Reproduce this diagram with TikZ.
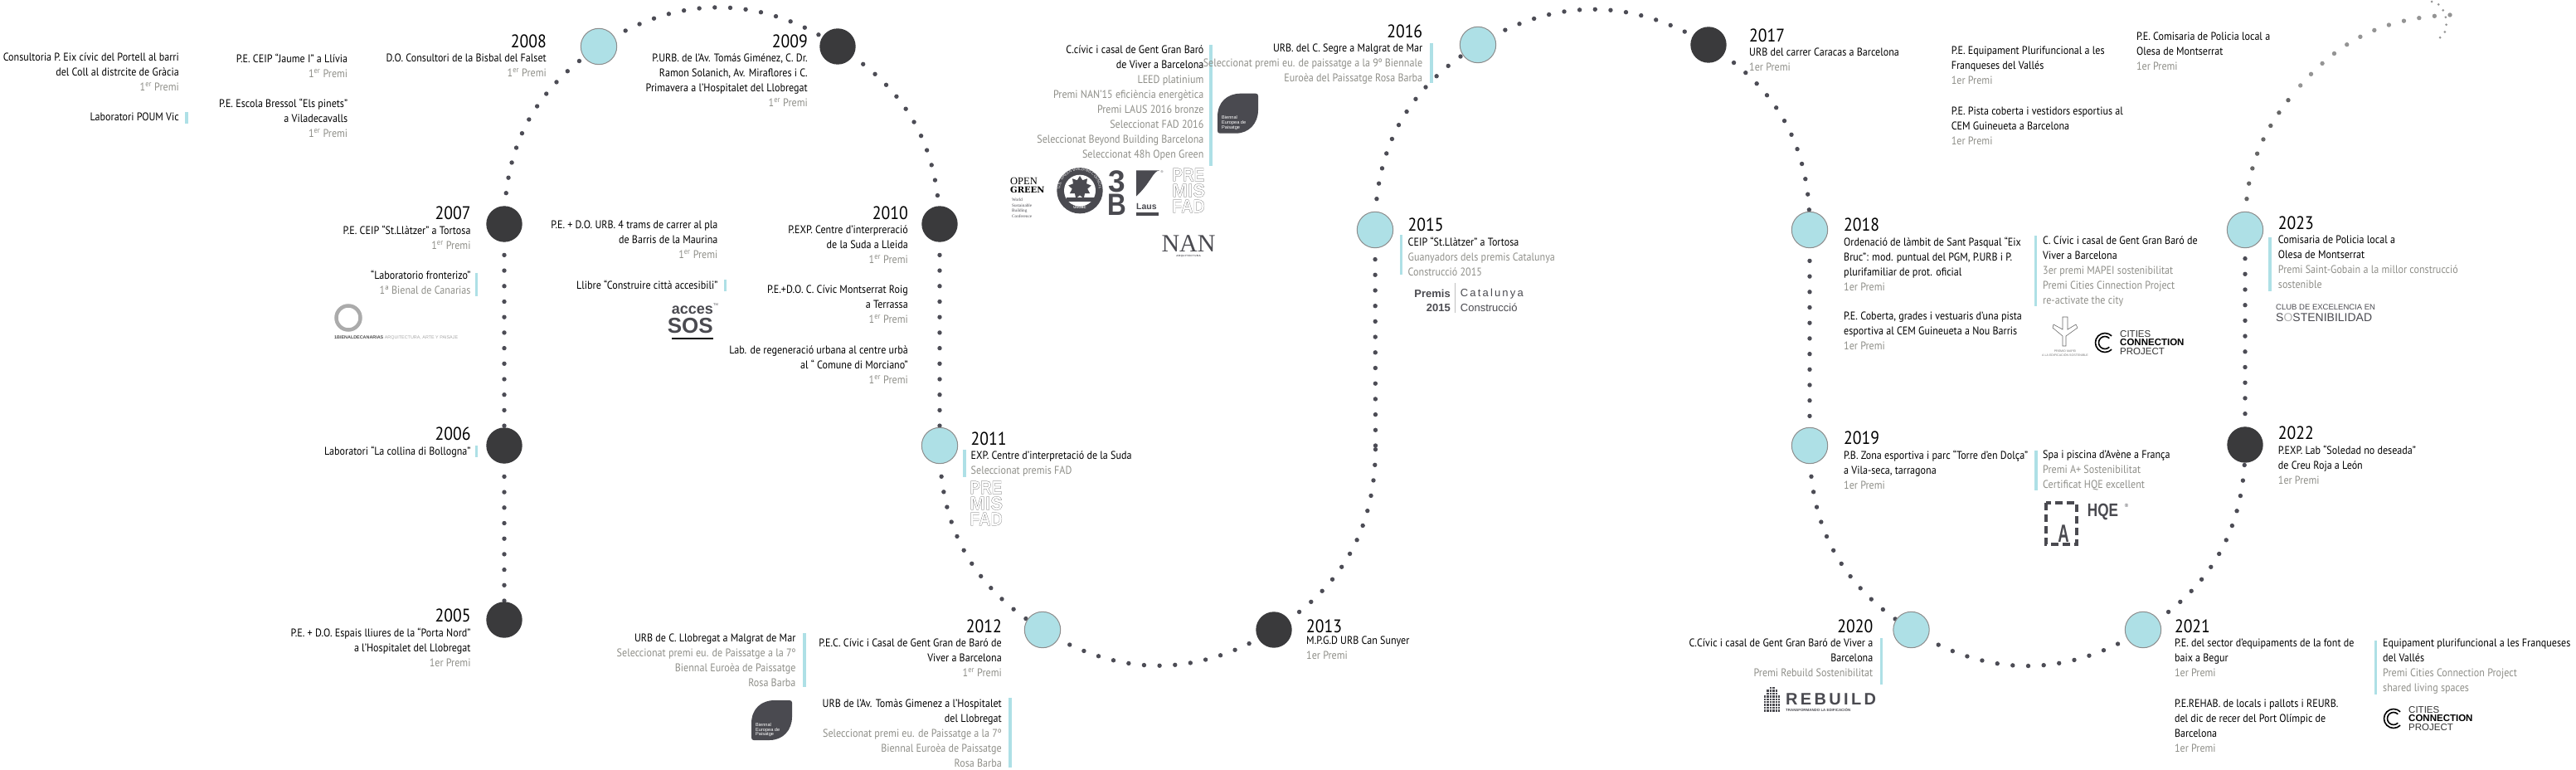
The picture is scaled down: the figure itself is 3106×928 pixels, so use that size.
\documentclass[tikz,border=0pt]{standalone}
\usepackage{fontspec}
\setmainfont[FakeStretch=0.895]{PT Sans}
\newfontfamily\logofont{Liberation Sans}
\newfontfamily\logoserif{Liberation Serif}
\newfontfamily\slabfont{DejaVu Serif}
\usetikzlibrary{backgrounds,shapes.geometric,decorations.text}
\definecolor{accent}{HTML}{AEE0E6}
\definecolor{nodedark}{HTML}{3A3A3C}
\definecolor{dotdark}{HTML}{4C4C55}
\definecolor{prizegray}{HTML}{8E8E88}
\definecolor{logodark}{HTML}{4A4A50}
\newcommand{\gr}[1]{\textcolor{prizegray}{#1}}
\newcommand{\premisup}{\gr{1\textsuperscript{er} Premi}}
\newcommand{\premi}{\gr{1er Premi}}
\tikzset{
  yeardark/.style={circle,minimum size=43.4pt,inner sep=0pt,fill=nodedark},
  yearlight/.style={circle,minimum size=43.4pt,inner sep=0pt,fill=accent,draw=black!45,line width=1pt},
  dotline/.style={dotdark,line width=5.4pt,line cap=round,dash pattern=on 0pt off 18.7pt},
  yeartag/.style={inner sep=0pt,font=\fontsize{22}{24}\selectfont},
  rtext/.style={anchor=north east,align=right,inner sep=0pt,font=\fontsize{13.5}{18}\selectfont},
  ltext/.style={anchor=north west,align=left,inner sep=0pt,font=\fontsize{13.5}{18}\selectfont},
  markbar/.style={rectangle,fill=accent,inner sep=0pt,minimum width=3.4pt},
  logotext/.style={inner sep=0pt,logodark},
  leaflogo/.pic={
    \fill[logodark] (0,45) -- (0,28) .. controls (0,10) and (12,0) .. (28,0) -- (46,0)
      .. controls (48,0) and (49,1) .. (49,3) -- (49,20) .. controls (49,36) and (38,48) .. (22,48)
      -- (3,48) .. controls (1,48) and (0,47) .. (0,45) -- cycle;
    \node[anchor=north west,align=left,inner sep=0pt,white,font=\logofont\fontsize{5.6}{5.8}\selectfont] (txt) at (5,27) {Biennal\\Europea de\\Paisatge};
  },
  fadlogo/.pic={
    \node[anchor=north west,align=left,inner sep=0pt,black!65,font=\logofont\bfseries\fontsize{22.5}{19}\selectfont] (txt) at (-1,-1.5) {\special{pdf:code 1 Tr 0.2 w}\scalebox{.85}[1]{PRE}\\\scalebox{1}[1]{MIS}\\\scalebox{.88}[1]{FAD}};
  },
  citieslogo/.pic={
    \draw[black,line width=1.6pt] (8.13pt,8.13pt) arc[start angle=45,end angle=315,radius=11.5pt];
    \draw[black,line width=1.6pt] (5.3pt,5.3pt) arc[start angle=45,end angle=315,radius=7.5pt];
    \node[anchor=west,inner sep=0pt,black!80,font=\logofont\fontsize{11.5}{12}\selectfont] (a) at (18,-10.5) {CITIES};
    \node[anchor=west,inner sep=0pt,black,font=\logofont\bfseries\fontsize{11.5}{12}\selectfont] (b) at (18,0) {CONNECTION};
    \node[anchor=west,inner sep=0pt,black!80,font=\logofont\fontsize{11.5}{12}\selectfont] (c) at (18,10.5) {PROJECT};
  },
}
\begin{document}
\begin{tikzpicture}[x=1pt,y=-1pt]
\useasboundingbox (0,0) rectangle (3106,928);
\node[yeardark] (n2005) at (608,747) {};
\node[yeardark] (n2006) at (608,537) {};
\node[yeardark] (n2007) at (608,270) {};
\node[yearlight] (n2008) at (722,56) {};
\node[yeardark] (n2009) at (1010,56) {};
\node[yeardark] (n2010) at (1133,270) {};
\node[yearlight] (n2011) at (1133,537) {};
\node[yearlight] (n2012) at (1257,759) {};
\node[yeardark] (n2013) at (1536,759) {};
\coordinate (c2014) at (1658.5,537);
\node[yearlight] (n2015) at (1658,277) {};
\node[yearlight] (n2016) at (1782,54) {};
\node[yeardark] (n2017) at (2060,54) {};
\node[yearlight] (n2018) at (2182,277) {};
\node[yearlight] (n2019) at (2182,537) {};
\node[yearlight] (n2020) at (2304.5,759) {};
\node[yearlight] (n2021) at (2584,759) {};
\node[yeardark] (n2022) at (2707,536) {};
\node[yearlight] (n2023) at (2707,277) {};
\coordinate (tailmid) at (2768.8,108.6);
\coordinate (tail) at (2954,18);
\coordinate (curlstart) at (2932,2);
\coordinate (curlend) at (2941,46);

\begin{scope}[on background layer]
  \draw[dotline] (n2006.center) -- (n2005.center);
  \draw[dotline] (n2007.center) -- (n2006.center);
  \draw[dotline] (n2007.center) to[bend left=27.6] (n2008.center);
  \draw[dotline] (n2008.center) to[bend left=34] (n2009.center);
  \draw[dotline] (n2009.center) to[bend left=28.4] (n2010.center);
  \draw[dotline] (n2010.center) -- (n2011.center);
  \draw[dotline] (n2011.center) to[bend right=29] (n2012.center);
  \draw[dotline] (n2012.center) to[bend right=32] (n2013.center);
  \draw[dotline] (n2013.center) to[bend right=29] (c2014);
  \draw[dotline] (c2014) -- (n2015.center);
  \draw[dotline] (n2015.center) to[bend left=29.2] (n2016.center);
  \draw[dotline] (n2016.center) to[bend left=31.7] (n2017.center);
  \draw[dotline] (n2017.center) to[bend left=29.2] (n2018.center);
  \draw[dotline] (n2018.center) -- (n2019.center);
  \draw[dotline] (n2019.center) to[bend right=29] (n2020.center);
  \draw[dotline] (n2020.center) to[bend right=32.2] (n2021.center);
  \draw[dotline] (n2021.center) to[bend right=29] (n2022.center);
  \draw[dotline] (n2022.center) -- (n2023.center);
  \draw[dotline,black!60] (n2023.center) to[bend left=20] (tailmid);
  \draw[dotline,black!42] (tail) to[bend right=23.3] (tailmid);
  \draw[dotline,black!42,line width=3pt,dash pattern=on 0pt off 9pt] (curlstart) to[bend left=75] (curlend);
\end{scope}

\node[yeartag,anchor=east] (y2005) at (567.7,742) {2005};
\node[rtext] (t2005) at (567.7,757) {P.E. + D.O. Espais lliures de la “Porta Nord”\\a l’Hospitalet del Llobregat\\\premi};
\node[yeartag,anchor=east] (y2006) at (567.7,523) {2006};
\node[rtext] (t2006) at (567.7,538) {Laboratori “La collina di Bollogna”};
\node[markbar,minimum height=14pt] (b2006) at (574.6,544) {};
\node[yeartag,anchor=east] (y2007) at (567.7,257) {2007};
\node[rtext] (t2007) at (567.7,272) {P.E. CEIP “St.Llàtzer” a Tortosa\\\premisup};
\node[rtext] (t2007b) at (567.7,326) {“Laboratorio fronterizo”\\\gr{1ª Bienal de Canarias}};
\node[markbar,minimum height=28pt] (b2007) at (574.6,343) {};
\draw[black!33,line width=4.5pt] (420,383) circle[radius=14.5pt];
\node[inner sep=0pt,anchor=west,font=\logofont\fontsize{5.4}{6}\selectfont] (canarias) at (403,407) {\textcolor{black!70}{\textbf{1BIENALDECANARIAS}} \textcolor{black!35}{ARQUITECTURA, ARTE Y PAISAJE}};
\node[yeartag,anchor=east] (y2008) at (659,50) {2008};
\node[rtext] (t2008) at (659,65) {D.O. Consultori de la Bisbal del Falset\\\premisup};
\node[rtext] (t2008b) at (419.4,65) {P.E. CEIP “Jaume I” a Llívia\\\premisup};
\node[rtext] (t2008c) at (419.4,119) {P.E. Escola Bressol “Els pinets”\\a Viladecavalls\\\premisup};
\node[rtext] (t2008d) at (216,64) {Consultoria P. Eix cívic del Portell al barri\\del Coll al distrcite de Gràcia\\\premisup};
\node[rtext] (t2008e) at (216,136) {Laboratori POUM Vic};
\node[markbar,minimum height=14pt] (b2008) at (225,142) {};
\node[yeartag,anchor=east] (y2009) at (974,50) {2009};
\node[rtext] (t2009) at (974,65) {P.URB. de l’Av. Tomás Giménez, C. Dr.\\Ramon Solanich, Av. Miraflores i C.\\Primavera a l’Hospitalet del Llobregat\\\premisup};
\node[yeartag,anchor=east] (y2010) at (1095,257) {2010};
\node[rtext] (t2010) at (1095,272) {P.EXP. Centre d’interpreració\\de la Suda a Lleida\\\premisup};
\node[rtext] (t2010b) at (1095,344) {P.E.+D.O. C. Cívic Montserrat Roig\\a Terrassa\\\premisup};
\node[rtext] (t2010c) at (1095,417) {Lab. de regeneració urbana al centre urbà\\al “ Comune di Morciano”\\\premisup};
\node[rtext] (t2010d) at (865.6,266) {P.E. + D.O. URB. 4 trams de carrer al pla\\de Barris de la Maurina\\\premisup};
\node[rtext] (t2010e) at (865.6,338) {Llibre “Construire città accesibili”};
\node[markbar,minimum height=14pt] (b2010) at (874.5,344) {};
\node[logotext,anchor=east,font=\logofont\bfseries\fontsize{18}{20}\selectfont] (acces) at (860,374) {acces};
\node[logotext,anchor=east,font=\logofont\bfseries\fontsize{26}{28}\selectfont] (sos) at (860,393) {SOS};
\node[logotext,anchor=west,font=\logofont\fontsize{4}{5}\selectfont] (accestm) at (860,367) {TM};
\node[logotext,fill=black,minimum width=50pt,minimum height=2pt] (sosline) at (835,408) {};
\node[yeartag,anchor=west] (y2011) at (1170.5,529) {2011};
\node[ltext] (t2011) at (1170.5,544) {EXP. Centre d’interpretació de la Suda\\\gr{Seleccionat premis FAD}};
\node[markbar,minimum height=33pt] (b2011) at (1163,558.5) {};
\pic (fad2011) at (1170,581) {fadlogo};
\node[yeartag,anchor=east] (y2012) at (1208,755) {2012};
\node[rtext] (t2012) at (1208,770) {P.E.C. Cívic i Casal de Gent Gran de Baró de\\Viver a Barcelona\\\premisup};
\node[rtext] (t2012b) at (959.6,764) {URB de  C. Llobregat a Malgrat de Mar\\\gr{Seleccionat premi eu. de Paissatge a la 7º}\\\gr{Biennal Euroèa de Paissatge}\\\gr{Rosa Barba}};
\node[markbar,minimum height=65pt] (b2012b) at (970,795) {};
\pic (leaf2012) at (906,844) {leaflogo};
\node[rtext] (t2012c) at (1208,843) {URB de l’Av. Tomàs Gimenez a l’Hospitalet\\del Llobregat\\\gr{Seleccionat premi eu. de Paissatge a la 7º}\\\gr{Biennal Euroèa de Paissatge}\\\gr{Rosa Barba}};
\node[markbar,minimum height=84pt] (b2012c) at (1218,883) {};
\node[yeartag,anchor=west] (y2013) at (1575,755) {2013};
\node[ltext] (t2013) at (1575,767) {M.P.G.D URB Can Sunyer\\\premi};
\node[rtext] (t2016b) at (1451.6,55) {C.cívic i casal de Gent Gran Baró\\de Viver a Barcelona\\\gr{LEED platinium}\\\gr{Premi NAN’15 eficiència energètica}\\\gr{Premi LAUS 2016 bronze}\\\gr{Seleccionat FAD 2016}\\\gr{Seleccionat Beyond Building Barcelona}\\\gr{Seleccionat 48h Open Green}};
\node[markbar,minimum height=146pt] (b2016b) at (1460,127) {};
\pic (leaf2016) at (1468,112.7) {leaflogo};
\node[anchor=west,inner sep=0pt,font=\logoserif\fontsize{12.5}{13}\selectfont] (openw) at (1218,218) {OPEN};
\node[anchor=west,inner sep=0pt,font=\slabfont\bfseries\fontsize{10}{11}\selectfont] (greenw) at (1218,229) {GREEN};
\node[anchor=north west,align=left,inner sep=0pt,logodark,font=\logoserif\fontsize{5.2}{6.4}\selectfont] (worldw) at (1220,239) {World\\Sustainable\\Building\\Conference};
\fill[logodark] (1302,229.7) circle[radius=27.7pt];
\fill[white] (1302,229.7) circle[radius=19pt];
\node[star,star points=9,star point ratio=1.5,fill=logodark,inner sep=0pt,minimum size=28pt] (sealleaf) at (1302,226) {};
\path[decorate,decoration={text along path,text align=center,text color=white,text={|\logofont\fontsize{4.6}{5}\selectfont|U.S. GREEN BUILDING COUNCIL}}] (1280,238) arc[start angle=203,end angle=-23,radius=23.5pt];
\node[rectangle,fill=white,draw=logodark,line width=.6pt,inner sep=.8pt,font=\logofont\bfseries\fontsize{3.8}{4}\selectfont,logodark] (sealband) at (1302,240) {LEED PLATINUM};
\node[inner sep=0pt,white,font=\logofont\bfseries\fontsize{4.2}{5}\selectfont] (sealname) at (1302,250) {USGBC};
\node[logotext,font=\logofont\bfseries\fontsize{37}{37}\selectfont] (bb3) at (1346.5,218.5) {3};
\node[logotext,font=\logofont\bfseries\fontsize{37}{37}\selectfont] (bbb) at (1346.5,246.5) {\scalebox{.85}[1]{B}};
\fill[logodark] (1370,205.5) -- (1398,205.5) .. controls (1390,206) and (1388,220) .. (1370,236.5) -- cycle;
\node[logotext,font=\logofont\fontsize{4}{5}\selectfont] (lausr) at (1401,207) {®};
\node[logotext,anchor=west,font=\logofont\bfseries\fontsize{10.5}{11}\selectfont] (lausw) at (1370,249) {Laus};
\node[logotext,fill=logodark,minimum width=27pt,minimum height=3.4pt] (lausbar) at (1383.5,258) {};
\pic (fad2016) at (1414,204) {fadlogo};
\node[inner sep=0pt,font=\logoserif\fontsize{30}{30}\selectfont,logodark] (nanw) at (1433,294) {NAN};
\node[inner sep=0pt,font=\logofont\bfseries\fontsize{3}{4}\selectfont,logodark] (nansub) at (1433,309) {A\,R\,Q\,U\,I\,T\,E\,C\,T\,U\,R\,A};
\node[yeartag,anchor=west] (y2015) at (1697.5,271) {2015};
\node[ltext] (t2015) at (1697.5,286) {CEIP “St.Llàtzer” a Tortosa\\\gr{Guanyadors dels premis Catalunya}\\\gr{Construcció 2015}};
\node[markbar,minimum height=48pt] (b2015) at (1689.5,307) {};
\node[logotext,anchor=east,font=\logofont\bfseries\fontsize{13}{15}\selectfont] (prm) at (1749,354) {Premis};
\node[logotext,anchor=east,font=\logofont\bfseries\fontsize{13}{15}\selectfont] (prmy) at (1749,371) {2015};
\node[rectangle,fill=black!25,inner sep=0pt,minimum width=1pt,minimum height=36pt] (prmbar) at (1754.7,359) {};
\node[logotext,anchor=west,font=\logofont\fontsize{13}{15}\selectfont] (prmc) at (1760.7,354) {C\,a\,t\,a\,l\,u\,n\,y\,a};
\node[logotext,anchor=west,font=\logofont\fontsize{13}{15}\selectfont] (prmd) at (1760.7,371) {Construcció};
\node[yeartag,anchor=east] (y2016) at (1715.4,38) {2016};
\node[rtext] (t2016) at (1715.4,53) {URB. del C. Segre a Malgrat de Mar\\\gr{Seleccionat premi eu. de paissatge a la 9º Biennale}\\\gr{Euroèa del Paissatge Rosa Barba}};
\node[markbar,minimum height=48pt] (b2016) at (1726,76) {};
\node[yeartag,anchor=west] (y2017) at (2109,43) {2017};
\node[ltext] (t2017) at (2109,58) {URB del carrer Caracas a Barcelona\\\premi};
\node[ltext] (t2017b) at (2352.6,56) {P.E. Equipament Plurifuncional a les\\Franqueses del Vallés\\\premi};
\node[ltext] (t2017c) at (2352.6,129) {P.E. Pista coberta i vestidors esportius al\\CEM Guineueta a Barcelona\\\premi};
\node[ltext] (t2017d) at (2575.8,39) {P.E. Comisaria de Policia local a\\Olesa de Montserrat\\\premi};
\node[yeartag,anchor=west] (y2018) at (2223,271) {2018};
\node[ltext] (t2018) at (2223,286) {Ordenació de làmbit de Sant Pasqual “Eix\\Bruc”: mod. puntual del PGM, P.URB i P.\\plurifamiliar de prot. oficial\\\premi};
\node[ltext] (t2018b) at (2223,376) {P.E. Coberta, grades i vestuaris d’una pista\\esportiva al CEM Guineueta a Nou Barris\\\premi};
\node[ltext] (t2018c) at (2463,285) {C. Cívic i casal de Gent Gran Baró de\\Viver a Barcelona\\\gr{3er premi MAPEI sostenibilitat}\\\gr{Premi Cities Cinnection Project}\\\gr{re-activate the city}};
\node[markbar,minimum height=85pt] (b2018c) at (2454.5,326.5) {};
\draw[black!60,line width=.6pt] (2487,382) -- (2487,397) -- (2476,391) -- (2475,395) -- (2487,405) -- (2487,417) -- (2491,417) -- (2491,405) -- (2505,395) -- (2503,391) -- (2493,397) -- (2493,382) -- cycle;
\node[inner sep=0pt,align=center,black!55,font=\logofont\fontsize{3.6}{4.8}\selectfont] (mapeiw) at (2490,425.5) {PREMIO MAPEI\\A LA EDIFICACIÓN SOSTENIBLE};
\pic (cities2018) at (2538,413) {citieslogo};
\node[yeartag,anchor=west] (y2019) at (2223,528) {2019};
\node[ltext] (t2019) at (2223,543) {P.B. Zona esportiva i parc “Torre d’en Dolça”\\a Vila-seca, tarragona\\\premi};
\node[ltext] (t2019b) at (2463,543) {Spa i piscina d’Avène a França\\\gr{Premi A+ Sostenibilitat}\\\gr{Certificat HQE excellent}};
\node[markbar,minimum height=48pt] (b2019b) at (2455,567) {};
\draw[logodark,line width=3.3pt,dash pattern=on 9pt off 5pt] (2467,606) rectangle (2504,656);
\node[logotext,font=\logofont\bfseries\fontsize{30}{30}\selectfont] (aplus) at (2488,643) {\scalebox{.62}[1]{A}};
\node[logotext,anchor=west,font=\logofont\bfseries\fontsize{22}{22}\selectfont] (hqe) at (2516.7,617) {\scalebox{.78}[1]{HQE}};
\node[logotext,font=\logofont\fontsize{6}{7}\selectfont] (hqer) at (2564,609) {®};
\node[yeartag,anchor=east] (y2020) at (2258.5,755) {2020};
\node[rtext] (t2020) at (2258.5,770) {C.Cívic i casal de Gent Gran Baró de Viver a\\Barcelona\\\gr{Premi Rebuild Sostenibilitat}};
\node[markbar,minimum height=56pt] (b2020) at (2268.6,797) {};
\foreach \col/\first/\last in {0/3/8,1/1/8,2/0/8,3/0/8,4/1/8,5/3/8}
  \foreach \row in {\first,...,\last}
    \fill[logodark] (2127+\col*3.4,828+\row*3.4) rectangle ++(2.4,2.4);
\node[logotext,anchor=west,font=\logofont\bfseries\fontsize{20}{20}\selectfont] (rebuildw) at (2153,843) {R\,E\,B\,U\,I\,L\,D};
\node[logotext,anchor=west,font=\logofont\bfseries\fontsize{4.4}{5}\selectfont] (rebuilds) at (2153,855.7) {TRANSFORMANDO LA EDIFICACIÓN};
\node[yeartag,anchor=west] (y2021) at (2621.8,755) {2021};
\node[ltext] (t2021) at (2621.8,770) {P.E. del sector d’equipaments de la font de\\baix a Begur\\\premi};
\node[ltext] (t2021b) at (2621.8,843) {P.E.REHAB. de locals i pallots i REURB.\\del dic de recer del Port Olímpic de\\Barcelona\\\premi};
\node[ltext] (t2021c) at (2873,770) {Equipament plurifuncional a les Franqueses\\del Vallés\\\gr{Premi Cities Connection Project}\\\gr{shared living spaces}};
\node[markbar,minimum height=65pt] (b2021c) at (2864.4,804) {};
\pic (cities2021) at (2886,866) {citieslogo};
\node[yeartag,anchor=west] (y2022) at (2746.7,522) {2022};
\node[ltext] (t2022) at (2746.7,537) {P.EXP. Lab “Soledad no deseada”\\de Creu Roja a León\\\premi};
\node[yeartag,anchor=west] (y2023) at (2746.7,269) {2023};
\node[ltext] (t2023) at (2746.7,284) {Comisaria de Policia local a\\Olesa de Montserrat\\\gr{Premi Saint-Gobain a la millor construcció}\\\gr{sostenible}};
\node[markbar,minimum height=65pt] (b2023) at (2737,318) {};
\node[logotext,anchor=west,font=\logofont\fontsize{9.5}{10}\selectfont] (clubw) at (2744,370.7) {CLUB DE EXCELENCIA EN};
\node[logotext,anchor=west,font=\logofont\fontsize{14}{15}\selectfont] (sostw) at (2744,383) {S\textcolor{black!30}{O}STENIBILIDAD};
\end{tikzpicture}
\end{document}
